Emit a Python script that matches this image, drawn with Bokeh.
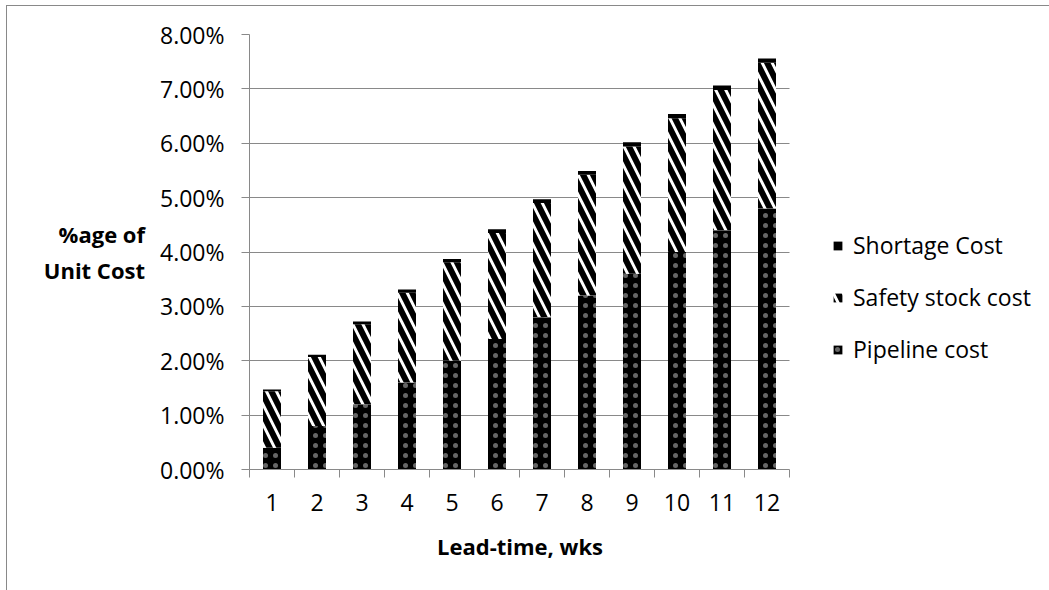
import numpy as np
from bokeh.plotting import figure
from bokeh.models import (ColumnDataSource, Range1d, FixedTicker, PrintfTickFormatter,
                          Legend, LegendItem, InlineStyleSheet, Title)
from bokeh.embed import file_html
from bokeh.resources import INLINE

# ---- data (% of unit cost by lead time in weeks) ----
weeks = [1, 2, 3, 4, 5, 6, 7, 8, 9, 10, 11, 12]
pipeline_cost = [0.40, 0.80, 1.20, 1.60, 2.00, 2.40, 2.80, 3.20, 3.60, 4.00, 4.40, 4.80]
safety_stock_cost = [1.04, 1.27, 1.47, 1.65, 1.81, 1.95, 2.10, 2.22, 2.34, 2.46, 2.58, 2.68]
shortage_cost = [0.03, 0.04, 0.05, 0.06, 0.06, 0.07, 0.07, 0.07, 0.08, 0.08, 0.08, 0.08]
y_ticks = [0, 1, 2, 3, 4, 5, 6, 7, 8]
series_names = ["Pipeline cost", "Safety stock cost", "Shortage Cost"]
x_title = "Lead-time, wks"
y_title = "%age of\nUnit Cost"

# ---- layout ----
W, H = 1049, 590
LEFT, TOP, BOTTOM = 249, 34, 121
CAT_PX = 45                       # pixel width of one lead-time slot
GRAY = "#898989"
FONT = "Open Sans"

# the frame runs to the right edge so the legend can sit inside it;
# axis line and gridlines are bounded to the 12 categories
x_lo = weeks[0] - 0.5
x_hi_cat = weeks[-1] + 0.5
x_hi = x_lo + (W - LEFT) / CAT_PX

p = figure(width=W, height=H, x_range=Range1d(x_lo, x_hi), y_range=Range1d(0, 8),
           output_backend="svg", toolbar_location=None, title=None,
           min_border_left=LEFT, min_border_right=0,
           min_border_top=TOP, min_border_bottom=BOTTOM)
p.outline_line_color = None
p.background_fill_color = "white"
p.border_fill_color = "white"

# thin chart-area border along the top and left edges
p.stylesheets = [InlineStyleSheet(css="""
:host { position: relative; }
:host::after {
  content: "";
  position: absolute;
  left: 6px; top: 5px; right: 0; bottom: 0;
  border-left: 1.3px solid #898989;
  border-top: 1.3px solid #898989;
  pointer-events: none;
  z-index: 50;
}
""")]

# ---- stacked bars ----
pipe = np.array(pipeline_cost)
safe = np.array(safety_stock_cost)
short = np.array(shortage_cost)
src = ColumnDataSource(dict(
    x=weeks,
    p0=np.zeros_like(pipe), p1=pipe,
    s0=pipe, s1=pipe + safe,
    h0=pipe + safe, h1=pipe + safe + short,
))

BAR_W = 0.4
r_pipe = p.vbar(x="x", bottom="p0", top="p1", width=BAR_W, source=src,
                fill_color="black", line_color=None,
                hatch_pattern="dot", hatch_color="white", hatch_alpha=0.4,
                hatch_scale=10)
r_safe = p.vbar(x="x", bottom="s0", top="s1", width=BAR_W, source=src,
                fill_color="white", line_color=None,
                hatch_pattern="left_diagonal_line", hatch_color="black",
                hatch_scale=20, hatch_weight=6)
r_short = p.vbar(x="x", bottom="h0", top="h1", width=BAR_W, source=src,
                 fill_color="black", line_color=None)

# ---- axes ----
xa = p.xaxis[0]
xa.bounds = (x_lo, x_hi_cat)
xa.ticker = FixedTicker(ticks=weeks,
                        minor_ticks=[w - 0.5 for w in weeks] + [weeks[-1] + 0.5])
xa.major_tick_out = 0
xa.major_tick_in = 0
xa.minor_tick_out = 8
xa.minor_tick_in = 0
xa.minor_tick_line_color = GRAY
xa.axis_line_color = GRAY
xa.major_label_standoff = 16
xa.major_label_text_font = FONT
xa.major_label_text_font_size = "23px"
xa.major_label_text_color = "black"

# x title centred under the 12 categories
x_title_w = 165
p.add_layout(Title(text=x_title, align="left",
                   offset=(CAT_PX * len(weeks) - x_title_w) / 2,
                   standoff=30, text_font=FONT, text_font_size="22px",
                   text_font_style="bold", text_color="black"), "below")

ya = p.yaxis[0]
ya.ticker = FixedTicker(ticks=y_ticks, minor_ticks=[])
ya.formatter = PrintfTickFormatter(format="%.2f%%")
ya.major_tick_out = 8
ya.major_tick_in = 0
ya.major_tick_line_color = GRAY
ya.axis_line_color = GRAY
ya.major_label_standoff = 17
ya.major_label_text_font = FONT
ya.major_label_text_font_size = "23px"
ya.major_label_text_color = "black"
ya.axis_label = y_title
ya.axis_label_orientation = "horizontal"
ya.axis_label_text_align = "center"
ya.axis_label_text_font = FONT
ya.axis_label_text_font_size = "22px"
ya.axis_label_text_font_style = "bold"
ya.axis_label_text_color = "black"
ya.axis_label_text_line_height = 1.18
ya.axis_label_standoff = 12

p.xgrid.grid_line_color = None
p.ygrid.grid_line_color = GRAY
p.ygrid.grid_line_width = 1
p.ygrid.cross_bounds = (x_lo, x_hi_cat)

# ---- legend ----
legend = Legend(items=[LegendItem(label=series_names[2], renderers=[r_short]),
                       LegendItem(label=series_names[1], renderers=[r_safe]),
                       LegendItem(label=series_names[0], renderers=[r_pipe])],
                location=(583, 104), orientation="vertical",
                padding=0, margin=0, spacing=20,
                glyph_width=11, glyph_height=11, label_standoff=10, label_height=30,
                label_text_font=FONT, label_text_font_size="23px",
                label_text_color="black",
                border_line_color=None, background_fill_alpha=0)
p.add_layout(legend)

open("out.html", "w").write(file_html(p, INLINE))
